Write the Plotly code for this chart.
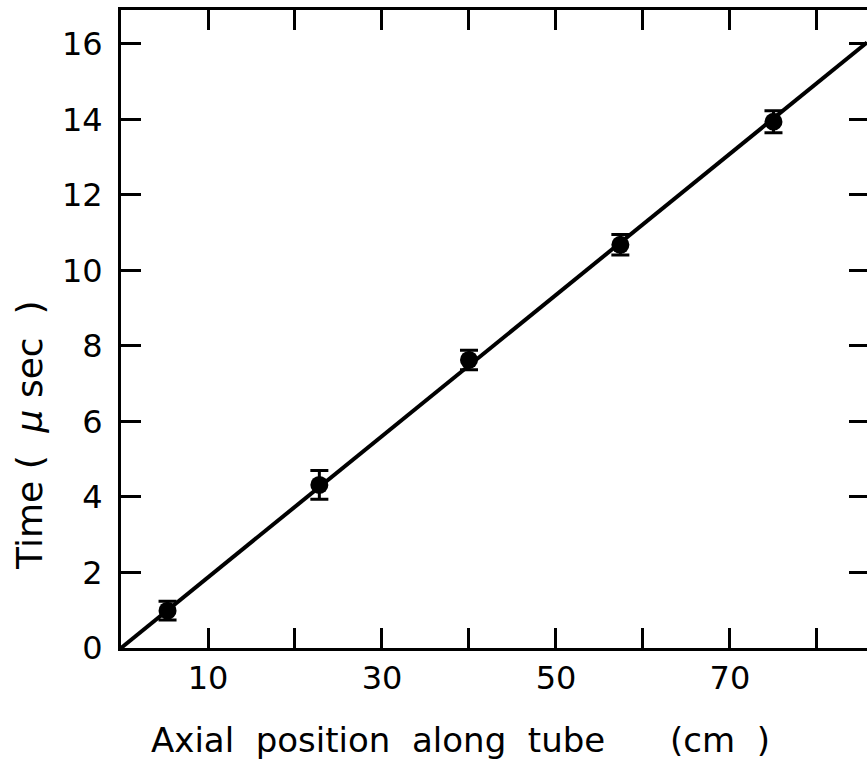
import plotly.graph_objects as go

# Data
position_cm = [5.35, 22.8, 40.0, 57.4, 75.0]
time_usec = [0.99, 4.32, 7.63, 10.68, 13.94]
time_err = [0.25, 0.38, 0.26, 0.27, 0.29]

fit_x = [0.0, 85.75]
fit_y = [0.0, 16.04]

x_tickvals = [10, 20, 30, 40, 50, 60, 70, 80]
x_ticktext = ["10", "", "30", "", "50", "", "70", ""]
y_tickvals = [0, 2, 4, 6, 8, 10, 12, 14, 16]
y_ticktext = ["0", "2", "4", "6", "8", "10", "12", "14", "16"]

FONT = "DejaVu Sans"
NB = "\u00a0"

fig = go.Figure()
fig.add_trace(go.Scatter(
    x=fit_x, y=fit_y, mode="lines",
    line=dict(color="black", width=4),
    showlegend=False, hoverinfo="skip",
))
fig.add_trace(go.Scatter(
    x=position_cm, y=time_usec, mode="markers",
    marker=dict(color="black", size=18),
    error_y=dict(type="data", array=time_err, visible=True,
                 color="black", thickness=3, width=9),
    showlegend=False,
))
# helper trace so the right-hand tick axis is drawn
fig.add_trace(go.Scatter(
    x=fit_x, y=fit_y, mode="lines", yaxis="y2",
    line=dict(color="rgba(0,0,0,0)", width=0),
    showlegend=False, hoverinfo="skip",
))

x_title = ("Axial" + NB * 2 + "position" + NB * 2 + "along" + NB * 2 + "tube"
           + NB * 6 + "(cm" + NB * 2 + ")")
y_title = "Time" + NB + "(" + NB * 2 + "<i>μ</i>" + NB + "sec" + NB * 2 + ")"

fig.update_layout(
    width=867, height=769,
    margin=dict(l=121, r=0, t=10, b=121),
    paper_bgcolor="white", plot_bgcolor="white",
    font=dict(family=FONT, color="black"),
    xaxis=dict(
        range=[0, 85.75], showgrid=False, zeroline=False,
        showline=True, linecolor="black", linewidth=3, mirror="ticks",
        ticks="inside", ticklen=20, tickwidth=3, tickcolor="black",
        tickvals=x_tickvals, ticktext=x_ticktext,
        tickfont=dict(size=32, family=FONT), ticklabelstandoff=0,
    ),
    yaxis=dict(
        range=[0, 16.9], showgrid=False, zeroline=False,
        showline=True, linecolor="black", linewidth=3, mirror=False,
        ticks="inside", ticklen=20, tickwidth=3, tickcolor="black",
        tickvals=y_tickvals, ticktext=y_ticktext,
        tickfont=dict(size=32, family=FONT), ticklabelstandoff=9,
    ),
    yaxis2=dict(
        overlaying="y", side="right", matches="y",
        showgrid=False, zeroline=False, showline=False,
        ticks="inside", ticklen=18, tickwidth=3, tickcolor="black",
        tickvals=y_tickvals, showticklabels=False,
    ),
    annotations=[
        dict(text=x_title, xref="paper", yref="paper", x=0.455, y=-0.144,
             xanchor="center", yanchor="middle", showarrow=False,
             font=dict(size=34, family=FONT)),
        dict(text=y_title, xref="paper", yref="paper", x=-0.122, y=0.334,
             xanchor="center", yanchor="middle", showarrow=False, textangle=-90,
             font=dict(size=36, family=FONT)),
    ],
)

fig.write_html(
    "out.html",
    config={"displayModeBar": False},
    post_script="document.body.style.margin='0';document.body.style.overflow='hidden';",
)
